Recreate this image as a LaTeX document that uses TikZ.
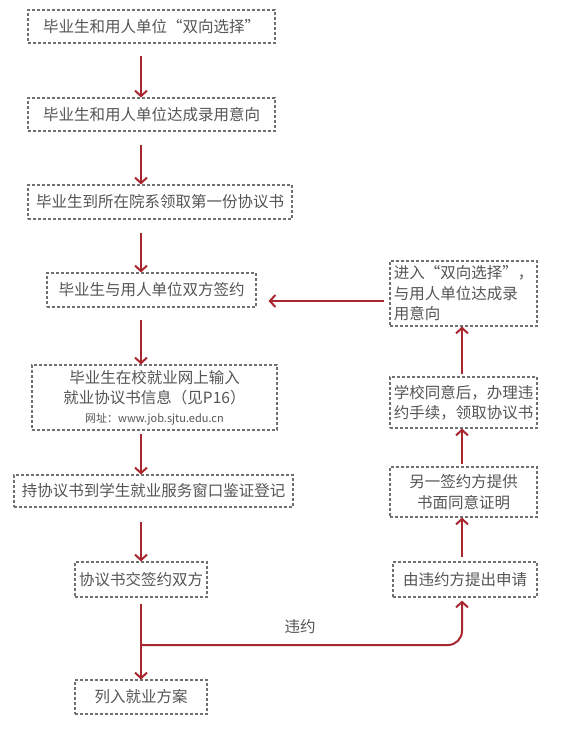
\documentclass[tikz,border=0pt]{standalone}
\usepackage{fontspec}
\setmainfont{Noto Sans CJK SC}
\usetikzlibrary{arrows.meta,calc}
\definecolor{arrred}{HTML}{A8262E}
\definecolor{txtgray}{HTML}{555555}
\definecolor{boxgray}{HTML}{707070}
\begin{document}
\begin{tikzpicture}[x=1pt,y=-1pt,
  box/.style={draw=boxgray, line width=1.1pt, dash pattern=on 3pt off 2pt,
    inner sep=0pt, text=txtgray, font=\fontsize{15.5}{20.5}\selectfont, align=center},
  arr/.style={draw=arrred, line width=2pt, -{Straight Barb[length=5.5pt,width=12pt,line width=2pt]}},
  lbl/.style={text=txtgray, font=\fontsize{15.5}{20}\selectfont}]
\useasboundingbox (0,0) rectangle (566,754);
\fill[white] (0,0) rectangle (566,754);
% left column
\node[box, minimum width=247, minimum height=33] (b1) at (151.5,26.5) {毕业生和用人单位“双向选择”};
\node[box, minimum width=247, minimum height=33] (b2) at (151.5,114.5) {毕业生和用人单位达成录用意向};
\node[box, minimum width=264, minimum height=34] (b3) at (160,202) {毕业生到所在院系领取第一份协议书};
\node[box, minimum width=209, minimum height=34] (b4) at (151.5,290) {毕业生与用人单位双方签约};
\node[box, minimum width=245, minimum height=65] (b5) at (154.5,397.5) {毕业生在校就业网上输入\\就业协议书信息（见P16）\\[-2pt]{\fontsize{11}{14}\selectfont 网址：www.job.sjtu.edu.cn}};
\node[box, minimum width=279, minimum height=32] (b6) at (153.5,491) {持协议书到学生就业服务窗口鉴证登记};
\node[box, minimum width=132, minimum height=35] (b7) at (141,579.5) {协议书交签约双方};
\node[box, minimum width=132, minimum height=34] (b8) at (141,697) {列入就业方案};
% right column
\node[box, minimum width=147, minimum height=65, align=left] (r1) at (463.5,293.5) {进入“双向选择”，\\与用人单位达成录\\用意向};
\node[box, minimum width=147, minimum height=51] (r2) at (463.5,402.5) {学校同意后，办理违\\约手续，领取协议书};
\node[box, minimum width=147, minimum height=50] (r3) at (463.5,492) {另一签约方提供\\书面同意证明};
\node[box, minimum width=144, minimum height=35] (r4) at (465,579.5) {由违约方提出申请};
% axes
\coordinate (ax) at (141,0);
\coordinate (rx) at (462,0);
\coordinate (split) at (141,645);
\coordinate (turn) at (462,645);
% left arrows
\draw[arr] ($(b1.south -| ax)+(0,12)$) -- (b2.north -| ax);
\draw[arr] ($(b2.south -| ax)+(0,13)$) -- (b3.north -| ax);
\draw[arr] ($(b3.south -| ax)+(0,13)$) -- (b4.north -| ax);
\draw[arr] ($(b4.south -| ax)+(0,12)$) -- (b5.north -| ax);
\draw[arr] ($(b5.south -| ax)+(0,3)$) -- (b6.north -| ax);
\draw[arr] ($(b6.south -| ax)+(0,14)$) -- (b7.north);
\draw[arr] ($(b7.south)+(0,6)$) -- (b8.north);
% violation branch
\draw[arr, rounded corners=14pt] (split) -- (turn) -- ($(r4.south -| rx)+(0,3)$);
\node[lbl] (wy) at (300,627) {违约};
% right arrows
\draw[arr] ($(r4.north -| rx)+(0,-4)$) -- (r3.south -| rx);
\draw[arr] ($(r3.north -| rx)+(0,-2)$) -- (r2.south -| rx);
\draw[arr] ($(r2.north -| rx)+(0,-2)$) -- (r1.south -| rx);
% back to signing
\draw[arr] ($(r1.west |- 0,301)+(-5,0)$) -- ($(b4.east |- 0,301)+(12,0)$);
\end{tikzpicture}
\end{document}
